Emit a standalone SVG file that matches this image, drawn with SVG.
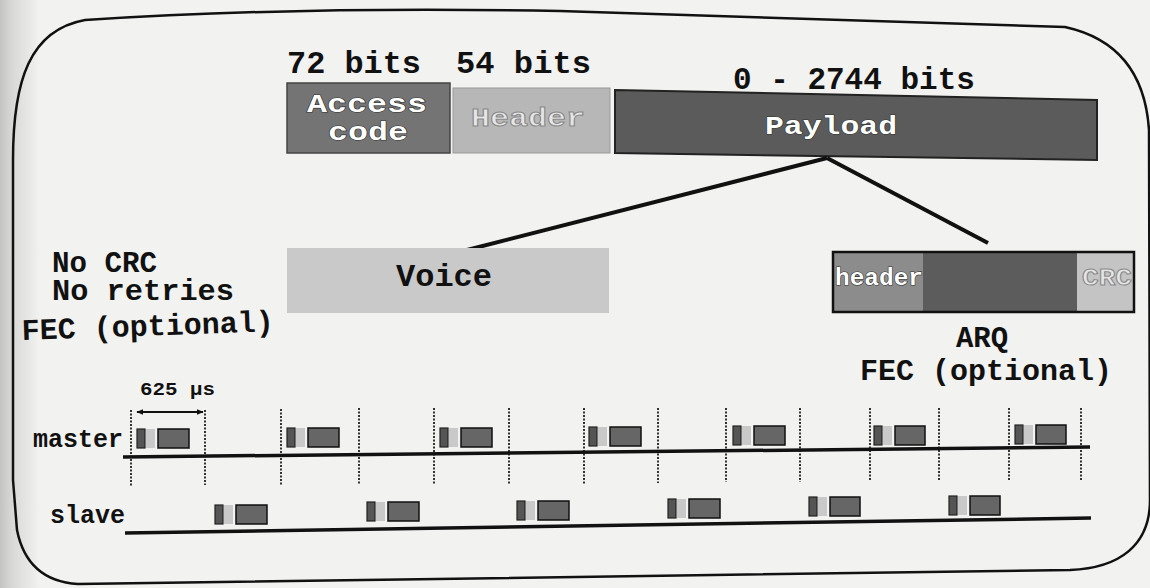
<svg xmlns="http://www.w3.org/2000/svg" width="1150" height="588" viewBox="0 0 1150 588">
<defs>
<style>
.t{font-family:"Liberation Mono","Courier New",monospace;font-weight:bold;fill:#111}
.w{font-family:"Liberation Mono","Courier New",monospace;font-weight:bold;fill:#fff;stroke:#333;stroke-width:1.2;paint-order:stroke}
.lt{font-family:"Liberation Mono","Courier New",monospace;font-weight:bold;fill:#e6e6e6;stroke:#8a8a8a;stroke-width:1}
.dash{stroke:#333;stroke-width:2;stroke-dasharray:2 1.5}
.n{fill:#555;stroke:#222;stroke-width:1.2}
.l{fill:#c9c9c9;stroke:none}
.b{fill:#666;stroke:#111;stroke-width:1.5}
</style>
<marker id="ah" viewBox="0 0 10 10" refX="9" refY="5" markerWidth="7" markerHeight="7" orient="auto-start-reverse" markerUnits="userSpaceOnUse">
<path d="M0,1 L10,5 L0,9 Z" fill="#111"/>
</marker>
<linearGradient id="edge" x1="0" x2="1" y1="0" y2="0">
<stop offset="0" stop-color="#c4c4c4"/><stop offset="0.3" stop-color="#d8d8d6"/><stop offset="1" stop-color="#f2f2f0"/>
</linearGradient>
</defs>
<rect width="1150" height="588" fill="#f2f2f0"/>
<rect width="40" height="588" fill="url(#edge)"/>
<path id="frame" d="M13 480 L13 160 C13 80 30 30 85 20 Q300 6 560 11 L1065 27 C1115 38 1145 70 1149 130 L1150 500 C1150 545 1120 568 1070 570 L78 584 C45 582 24 565 17 530 Z" fill="none" stroke="#111" stroke-width="2.5"/>

<g id="bits-labels">
<text class="t" x="287" y="73" font-size="31" textLength="134" lengthAdjust="spacingAndGlyphs">72 bits</text>
<text class="t" x="456" y="73" font-size="31" textLength="135" lengthAdjust="spacingAndGlyphs">54 bits</text>
<text class="t" x="733" y="89" font-size="31">0 - 2744 bits</text>
</g>

<g id="access-code">
<rect x="287" y="83" width="163" height="70" fill="#747474" stroke="#444" stroke-width="1.5"/>
<text class="w" x="307" y="112" font-size="26" textLength="120" lengthAdjust="spacingAndGlyphs">Access</text>
<text class="w" x="328" y="140" font-size="26" textLength="80" lengthAdjust="spacingAndGlyphs">code</text>
</g>
<g id="header">
<rect x="453" y="88" width="157" height="65" fill="#b7b7b7" stroke="#9a9a9a" stroke-width="1"/>
<text class="lt" x="471" y="126" font-size="26" textLength="114" lengthAdjust="spacingAndGlyphs">Header</text>
</g>
<g id="payload">
<polygon points="615,90 1097,100 1097,160 615,153" fill="#5b5b5b" stroke="#222" stroke-width="2"/>
<text class="w" x="765" y="134" font-size="26" textLength="132" lengthAdjust="spacingAndGlyphs">Payload</text>
</g>

<g id="connectors" stroke="#111" stroke-width="4" fill="none">
<line x1="827" y1="158" x2="467" y2="250"/>
<line x1="827" y1="158" x2="988" y2="243"/>
</g>

<g id="voice">
<rect x="287" y="248" width="322" height="65" fill="#c9c9c9"/>
<text class="t" x="444" y="286" font-size="32" text-anchor="middle">Voice</text>
</g>

<g id="arq-packet">
<rect x="833" y="252" width="90" height="60" fill="#8c8c8c"/>
<rect x="923" y="252" width="154" height="60" fill="#5c5c5c"/>
<rect x="1077" y="252" width="57" height="60" fill="#c4c4c4"/>
<rect x="833" y="252" width="301" height="60" fill="none" stroke="#111" stroke-width="2.5"/>
<text class="w" x="835" y="285" font-size="24" textLength="88" lengthAdjust="spacingAndGlyphs">header</text>
<text class="lt" x="1082" y="285" font-size="24" textLength="50" lengthAdjust="spacingAndGlyphs">CRC</text>
</g>

<g id="arq-labels">
<text class="t" x="982" y="347" font-size="29" text-anchor="middle">ARQ</text>
<text class="t" x="860" y="380" font-size="30">FEC (optional)</text>
</g>

<g id="voice-labels">
<text class="t" x="52" y="272" font-size="29" textLength="105" lengthAdjust="spacingAndGlyphs">No CRC</text>
<text class="t" x="52" y="300" font-size="29" textLength="182" lengthAdjust="spacingAndGlyphs">No retries</text>
<text class="t" x="22" y="340" font-size="30" transform="rotate(-2 22 340)">FEC (optional)</text>
</g>

<g id="timing">
<text class="t" x="140" y="395" font-size="18" textLength="75" lengthAdjust="spacingAndGlyphs">625 µs</text>
<line x1="137" y1="412" x2="203" y2="412" stroke="#111" stroke-width="2" marker-start="url(#ah)" marker-end="url(#ah)"/>
<text class="t" x="33" y="447" font-size="25">master</text>
<text class="t" x="50" y="523" font-size="25">slave</text>
<g id="slots">
<line class="dash" x1="131" y1="410" x2="131" y2="486"/>
<line class="dash" x1="205" y1="410" x2="205" y2="485"/>
<line class="dash" x1="281" y1="409" x2="281" y2="485"/>
<line class="dash" x1="359" y1="408" x2="359" y2="485"/>
<line class="dash" x1="434" y1="408" x2="434" y2="485"/>
<line class="dash" x1="509" y1="408" x2="509" y2="484"/>
<line class="dash" x1="584" y1="408" x2="584" y2="484"/>
<line class="dash" x1="658" y1="408" x2="658" y2="483"/>
<line class="dash" x1="726" y1="408" x2="726" y2="482"/>
<line class="dash" x1="800" y1="408" x2="800" y2="482"/>
<line class="dash" x1="870" y1="408" x2="870" y2="481"/>
<line class="dash" x1="939" y1="408" x2="939" y2="481"/>
<line class="dash" x1="1009" y1="408" x2="1009" y2="480"/>
<line class="dash" x1="1081" y1="408" x2="1081" y2="480"/>
</g>
<line x1="123" y1="457" x2="1090" y2="447" stroke="#111" stroke-width="3.5"/>
<line x1="125" y1="533" x2="1091" y2="518" stroke="#111" stroke-width="3.5"/>
</g>

<g id="master-packets">
<g transform="translate(137 429)"><rect class="n" width="8" height="19"/><rect class="l" x="9" width="9" height="19"/><rect class="b" x="21" width="31" height="19"/></g>
<g transform="translate(287 428)"><rect class="n" width="8" height="19"/><rect class="l" x="9" width="9" height="19"/><rect class="b" x="21" width="31" height="19"/></g>
<g transform="translate(440 428)"><rect class="n" width="8" height="19"/><rect class="l" x="9" width="9" height="19"/><rect class="b" x="21" width="31" height="19"/></g>
<g transform="translate(589 427)"><rect class="n" width="8" height="19"/><rect class="l" x="9" width="9" height="19"/><rect class="b" x="21" width="31" height="19"/></g>
<g transform="translate(733 426)"><rect class="n" width="8" height="19"/><rect class="l" x="9" width="9" height="19"/><rect class="b" x="21" width="31" height="19"/></g>
<g transform="translate(874 426)"><rect class="n" width="8" height="19"/><rect class="l" x="9" width="9" height="19"/><rect class="b" x="21" width="30" height="19"/></g>
<g transform="translate(1015 425)"><rect class="n" width="8" height="19"/><rect class="l" x="9" width="9" height="19"/><rect class="b" x="21" width="30" height="19"/></g>
</g>

<g id="slave-packets">
<g transform="translate(215 505)"><rect class="n" width="8" height="19"/><rect class="l" x="9" width="9" height="19"/><rect class="b" x="21" width="31" height="19"/></g>
<g transform="translate(367 502)"><rect class="n" width="8" height="19"/><rect class="l" x="9" width="9" height="19"/><rect class="b" x="21" width="31" height="19"/></g>
<g transform="translate(517 501)"><rect class="n" width="8" height="19"/><rect class="l" x="9" width="9" height="19"/><rect class="b" x="21" width="31" height="19"/></g>
<g transform="translate(668 499)"><rect class="n" width="8" height="19"/><rect class="l" x="9" width="9" height="19"/><rect class="b" x="21" width="31" height="19"/></g>
<g transform="translate(809 497)"><rect class="n" width="8" height="19"/><rect class="l" x="9" width="9" height="19"/><rect class="b" x="21" width="30" height="19"/></g>
<g transform="translate(949 496)"><rect class="n" width="8" height="19"/><rect class="l" x="9" width="9" height="19"/><rect class="b" x="21" width="30" height="19"/></g>
</g>
</svg>
